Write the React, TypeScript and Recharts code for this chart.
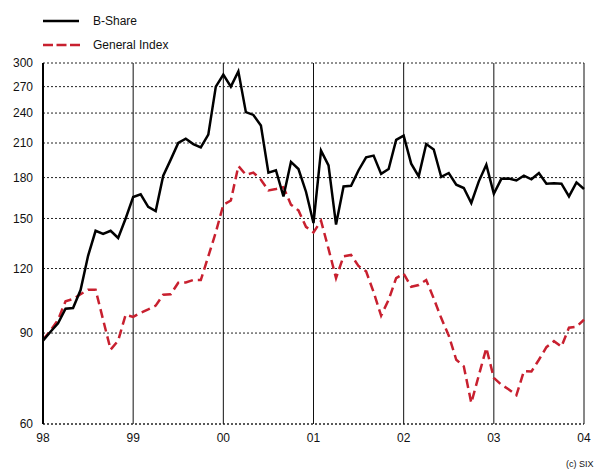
import { LineChart, Line, XAxis, YAxis, CartesianGrid } from "recharts"

// monthly closes, Jan 1998 .. Jan 2004
const bShare = [
  87, 90.5, 94, 100.3, 100.6, 109, 127, 142, 140, 142, 137.5, 150,
  165, 167, 158, 155, 181.5, 195, 210, 214, 209, 206, 218, 270,
  285, 270, 289, 241, 238, 227, 184, 186, 165.5, 193, 187, 169,
  147, 203, 190, 146, 173, 173.5, 186, 197, 198.5, 183, 187, 213,
  217, 191.5, 181, 209, 204, 180.5, 183.7, 174.4, 171.8, 160.7, 177, 190.6,
  167.5, 179, 179.3, 177.7, 181.5, 178.6, 183.7, 175.2, 175.6, 175.2, 165.5, 176.2,
  171.1,
]

const generalIndex = [
  87.4, 91, 95.5, 103.7, 104.8, 107, 109.2, 109.2, 95.5, 83.6, 87, 97.7,
  96.7, 98.5, 100, 101.7, 106.8, 107, 112.6, 112.8, 114, 114, 126.7, 141,
  159.5, 162.5, 189.5, 182.3, 184, 178.3, 170, 171, 172.5, 159.5, 155.5, 144.5,
  141, 148.5, 131, 115, 126.7, 127.5, 121.3, 118.5, 108, 97.3, 104.4, 115,
  117.3, 110.6, 111.5, 114, 105, 96.2, 89, 79.9, 77.6, 65.9, 74.5, 84.2,
  73.7, 71.5, 70, 68.2, 75.9, 75.8, 79.9, 84.5, 86.8, 84.7, 92.2, 92.6,
  95.5,
]

const yearLabels = ["98", "99", "00", "01", "02", "03", "04"]
const yTicks = [60, 90, 120, 150, 180, 210, 240, 270, 300]

const data = bShare.map((v, i) => ({ m: i, bShare: v, general: generalIndex[i] }))
const xTicks = yearLabels.map((_, i) => i * 12)

const FONT = "'Liberation Sans', Arial, Helvetica, sans-serif"
const RED = "#c8202f"

export default function App() {
  return (
    <div style={{ position: "absolute", left: 0, top: 0, width: 595, height: 471, background: "#fff", fontFamily: FONT }}>
      {/* legend */}
      <div style={{ position: "absolute", left: 43, top: 11, fontSize: 12, color: "#111" }}>
        <div style={{ display: "flex", alignItems: "center", height: 20 }}>
          <svg width={50} height={6}>
            <line x1={0} y1={3} x2={36} y2={3} stroke="#000" strokeWidth={2.5} />
          </svg>
          <span>B-Share</span>
        </div>
        <div style={{ display: "flex", alignItems: "center", height: 20, marginTop: 4 }}>
          <svg width={50} height={6}>
            <line x1={0} y1={3} x2={37} y2={3} stroke={RED} strokeWidth={2.5} strokeDasharray="10 3.5" />
          </svg>
          <span>General Index</span>
        </div>
      </div>

      <LineChart
        width={595}
        height={471}
        data={data}
        margin={{ top: 63, right: 11, bottom: 0, left: 0 }}
      >
        <CartesianGrid horizontal={true} vertical={false} stroke="#222" strokeDasharray="2 2" />
        <CartesianGrid horizontal={false} vertical={true} stroke="#111" />
        <XAxis
          dataKey="m"
          type="number"
          domain={[0, 72]}
          ticks={xTicks}
          tickFormatter={(v) => yearLabels[v / 12]}
          height={47}
          axisLine={{ stroke: "#222", strokeDasharray: "2 2" }}
          tickLine={false}
          tickSize={0}
          tickMargin={9}
          tick={{ fontSize: 12, fill: "#111", fontFamily: FONT }}
        />
        <YAxis
          type="number"
          scale="log"
          domain={[60, 300]}
          ticks={yTicks}
          allowDataOverflow
          width={43}
          axisLine={{ stroke: "#000", strokeWidth: 2 }}
          tickLine={false}
          tickSize={0}
          tickMargin={10}
          tick={{ fontSize: 12, fill: "#111", fontFamily: FONT }}
        />
        <Line
          type="linear"
          dataKey="general"
          stroke={RED}
          strokeWidth={2.5}
          strokeDasharray="9 5"
          dot={false}
          isAnimationActive={false}
        />
        <Line
          type="linear"
          dataKey="bShare"
          stroke="#000"
          strokeWidth={2.5}
          dot={false}
          isAnimationActive={false}
        />
      </LineChart>

      <div style={{ position: "absolute", left: 566, top: 459, fontSize: 9, color: "#111", whiteSpace: "nowrap" }}>
        (c) SIX
      </div>
    </div>
  )
}
